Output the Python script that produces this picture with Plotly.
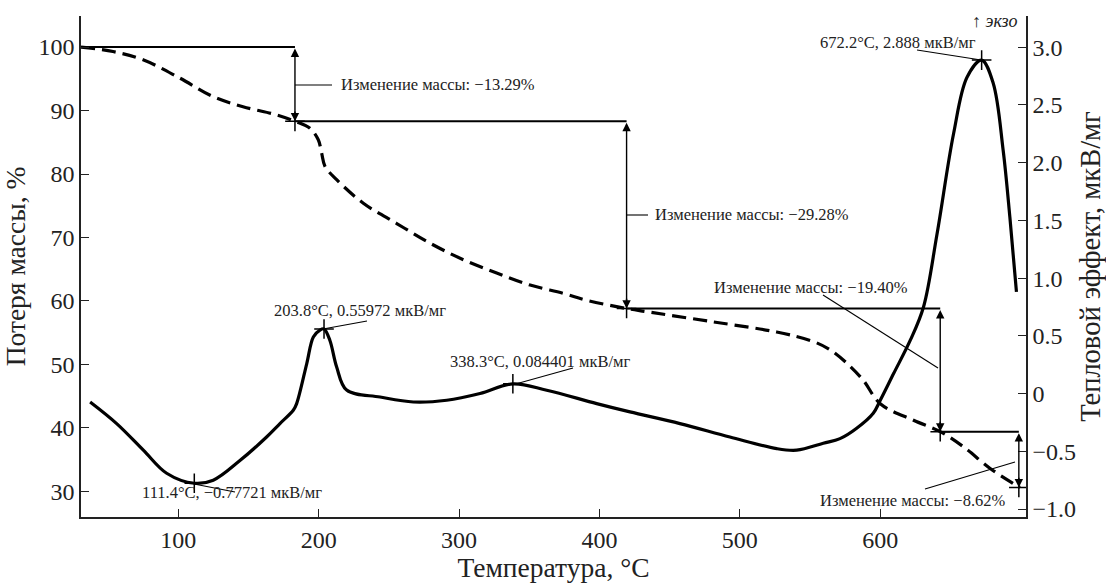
import plotly.graph_objects as go

# ---------------- data ----------------
# TG curve (mass loss, %), dashed, left axis
tg_T = [30.7, 53.5, 74.9, 101.2, 124.7, 146.1, 170.3, 183.1, 193.8, 199.7, 202.1, 204.5,
        212.8, 231.8, 255.6, 279.3, 303.0, 326.8, 350.6, 374.2, 390.9, 419.3, 433.6, 481.0,
        526.2, 552.3, 564.2, 576.1, 587.9, 600.0, 623.7, 642.7, 659.3, 678.3, 694.9, 699.5]
tg_mass = [100.0, 99.3, 98.0, 95.1, 92.2, 90.6, 89.3, 88.3, 87.2, 85.4, 83.3, 81.2,
           79.1, 75.4, 72.2, 69.1, 66.5, 64.4, 62.5, 61.2, 60.1, 58.8, 58.3, 56.7,
           55.1, 53.6, 52.3, 50.2, 47.5, 43.8, 41.2, 39.4, 37.0, 33.6, 31.2, 30.6]

# DSC curve (heat effect, µV/mg), solid, right axis
dsc_T = [37.2, 56.1, 75.1, 91.7, 111.4, 124.9, 143.9, 162.9, 172.4, 181.9, 184.3, 191.5,
         196.2, 200.9, 203.8, 208.0, 212.8, 219.9, 243.7, 267.4, 291.2, 314.9, 338.3, 362.4,
         398.0, 421.7, 457.3, 492.9, 526.2, 540.5, 559.4, 571.3, 583.2, 595.0, 600.0, 609.5,
         621.4, 630.8, 640.4, 652.2, 661.8, 672.2, 680.4, 687.5, 692.3, 697.0]
dsc_val = [-0.073, -0.26, -0.49, -0.69, -0.777, -0.75, -0.58, -0.376, -0.26, -0.145, -0.087, 0.26,
           0.49, 0.55, 0.56, 0.46, 0.23, 0.03, -0.03, -0.073, -0.058, 0.0, 0.084, 0.029,
           -0.087, -0.159, -0.26, -0.376, -0.477, -0.49, -0.43, -0.39, -0.30, -0.17, -0.058, 0.173,
           0.462, 0.75, 1.38, 2.25, 2.74, 2.888, 2.69, 2.11, 1.53, 0.88]

# mass-change steps
step_start_T = [30.7, 183.1, 419.3, 642.7]
step_end_T = [183.1, 419.3, 642.7, 698.7]
step_level = [100.0, 88.3, 58.8, 39.4]
step_next = [88.3, 58.8, 39.4, 30.6]
step_labels = ["Изменение массы: −13.29%", "Изменение массы: −29.28%",
               "Изменение массы: −19.40%", "Изменение массы: −8.62%"]

# DSC peak labels
peak_T = [111.4, 203.8, 338.3, 672.2]
peak_val = [-0.77721, 0.55972, 0.084401, 2.888]
peak_labels = ["111.4°C, −0.77721 мкВ/мг", "203.8°C, 0.55972 мкВ/мг",
               "338.3°C, 0.084401 мкВ/мг", "672.2°C, 2.888 мкВ/мг"]

x_ticks = [100, 200, 300, 400, 500, 600]
y1_ticks = [30, 40, 50, 60, 70, 80, 90, 100]
y2_ticks = [-1.0, -0.5, 0, 0.5, 1.0, 1.5, 2.0, 2.5, 3.0]
y2_ticktext = ["−1.0", "−0.5", "0", "0.5", "1.0", "1.5", "2.0", "2.5", "3.0"]

# ---------------- layout helpers ----------------
W, H = 1106, 583
L, R, T_, B = 81, 1026, 16, 517
XR = [30.7, 703.8]
Y1R = [25.95, 104.9]
Y2R = [-1.069, 3.27]
FONT = "Liberation Serif"


def px(x):
    return (x - L) / (R - L)


def py(y):
    return (B - y) / (B - T_)


fig = go.Figure()

# TG dashed
fig.add_trace(go.Scatter(x=tg_T, y=tg_mass, mode="lines", line=dict(color="black", width=3.2, dash="14px,7px"),
                         line_shape="spline", showlegend=False, hoverinfo="skip"))
# DSC solid
fig.add_trace(go.Scatter(x=dsc_T, y=dsc_val, mode="lines", line=dict(color="black", width=3.2),
                         line_shape="spline", yaxis="y2", showlegend=False, hoverinfo="skip"))

# step levels
for s, e, lv in zip(step_start_T, step_end_T, step_level):
    fig.add_trace(go.Scatter(x=[s, e], y=[lv, lv], mode="lines", line=dict(color="black", width=2),
                             showlegend=False, hoverinfo="skip"))

# cross markers on TG
fig.add_trace(go.Scatter(x=step_end_T, y=step_next, mode="markers",
                         marker=dict(symbol="cross-thin", size=14, line=dict(width=1.5, color="black")),
                         showlegend=False, hoverinfo="skip"))
# cross markers on DSC
fig.add_trace(go.Scatter(x=peak_T, y=peak_val, mode="markers", yaxis="y2",
                         marker=dict(symbol="cross-thin", size=14, line=dict(width=1.5, color="black")),
                         showlegend=False, hoverinfo="skip"))

annotations = []
# double arrows
for t, a, b in zip(step_end_T, step_level, step_next):
    annotations.append(dict(x=t, y=b, ax=t, ay=a, xref="x", yref="y", axref="x", ayref="y",
                            text="", showarrow=True, arrowside="end+start", arrowhead=2, startarrowhead=2,
                            arrowsize=1.2, startarrowsize=1.2, arrowwidth=1.4, arrowcolor="black",
                            standoff=0, startstandoff=0))

lab_font = dict(family=FONT, size=16.5, color="#222")
# mass-change labels (pixel positions)
mass_label_pos = [(339, 85, "left"), (653, 215, "left"), (910, 287, "right"), (1008, 500, "right")]
for txt, (x0, y0, anc) in zip(step_labels, mass_label_pos):
    annotations.append(dict(x=px(x0), y=py(y0), xref="paper", yref="paper", text=txt, showarrow=False,
                            xanchor=anc, yanchor="middle", font=lab_font))
# peak labels
peak_label_pos = [(140, 492, "left"), (272, 310, "left"), (448, 361, "left"), (818, 43, "left")]
for txt, (x0, y0, anc) in zip(peak_labels, peak_label_pos):
    annotations.append(dict(x=px(x0), y=py(y0), xref="paper", yref="paper", text=txt, showarrow=False,
                            xanchor=anc, yanchor="middle", font=lab_font))

annotations.append(dict(x=px(1019), y=py(21), xref="paper", yref="paper", text="<b>↑</b> <i>экзо</i>",
                        showarrow=False, xanchor="right", yanchor="middle",
                        font=dict(family=FONT, size=18, color="#222")))

# connector lines (pixel positions)
connectors = [((295, 85), (332, 85)), ((627, 215), (648, 215)), ((823, 295), (938, 368)),
              ((925, 489), (1015, 462)), ((194, 484), (235, 492)), ((323, 329), (367, 321)),
              ((512, 385), (573, 368)), ((917, 50), (981, 60))]
shapes = []
for (x0, y0), (x1, y1) in connectors:
    shapes.append(dict(type="line", xref="paper", yref="paper", x0=px(x0), y0=py(y0), x1=px(x1), y1=py(y1),
                       line=dict(color="black", width=1.1)))

axis_common = dict(showline=True, linecolor="#222", linewidth=1.5, ticks="inside", ticklen=8, tickwidth=1.3,
                   tickcolor="#222", showgrid=False, zeroline=False, automargin=False,
                   tickfont=dict(family=FONT, size=24, color="#222"))

fig.update_layout(
    width=W, height=H,
    margin=dict(l=L, r=W - R, t=T_, b=H - B),
    paper_bgcolor="white", plot_bgcolor="white",
    font=dict(family=FONT),
    xaxis=dict(range=XR, tickvals=x_ticks,
               title=dict(text="Температура, °C", font=dict(family=FONT, size=27.5, color="#222"), standoff=4),
               **axis_common),
    yaxis=dict(range=Y1R, tickvals=y1_ticks,
               title=dict(text="Потеря массы, %", font=dict(family=FONT, size=27.5, color="#222"), standoff=6),
               **axis_common),
    yaxis2=dict(range=Y2R, tickvals=y2_ticks, ticktext=y2_ticktext, overlaying="y", side="right",
                title=dict(text="Тепловой эффект, мкВ/мг", font=dict(family=FONT, size=28.5, color="#222"), standoff=6),
                **axis_common),
    annotations=annotations,
    shapes=shapes,
)

fig.write_html("out.html")
